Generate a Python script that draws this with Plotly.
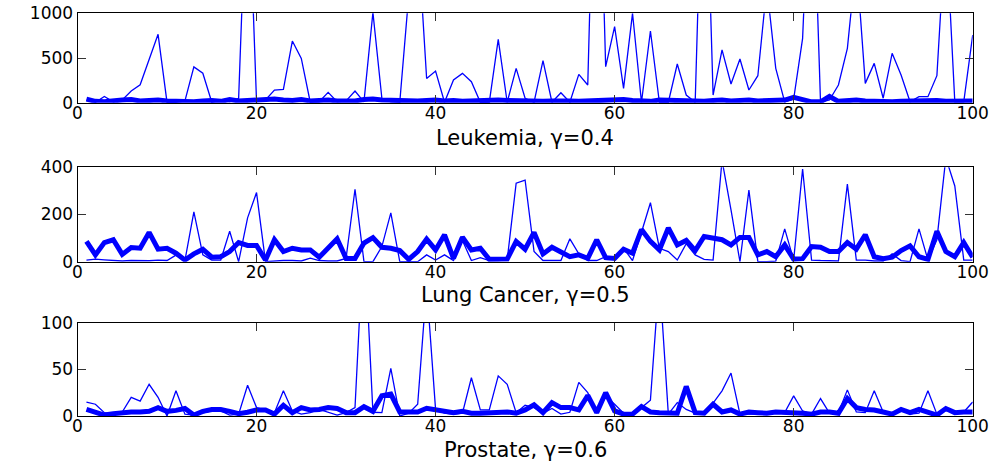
import plotly.graph_objects as go

# Sample index (1..100) shared by all three panels
sample = list(range(1, 101))

# Leukemia, gamma = 0.4
leuk_thin = [30, 5, 70, 10, 30, 130, 200, 480, 765, 5,
             5, 20, 400, 330, 5, 30, 10, 50, 2800, 10,
             30, 140, 150, 690, 496, 5, 10, 115, 10, 20,
             130, 10, 1010, 50, 10, 5, 1200, 1900, 270, 354,
             5, 254, 328, 235, 5, 5, 709, 5, 384, 50,
             5, 470, 5, 112, 5, 317, 198, 4000, 403, 851,
             160, 1000, 5, 802, 5, 5, 433, 86, 5, 3500,
             86, 590, 209, 489, 142, 302, 1300, 384, 10, 40,
             720, 3100, 5, 30, 198, 608, 1600, 216, 440, 50,
             552, 310, 10, 67, 67, 302, 2000, 10, 10, 757]
leuk_thick = [40, 15, 10, 25, 30, 35, 20, 25, 30, 20,
              15, 20, 10, 20, 25, 15, 35, 20, 25, 30,
              35, 40, 30, 25, 35, 20, 25, 30, 20, 15,
              20, 35, 40, 30, 25, 20, 15, 20, 25, 30,
              20, 25, 15, 20, 25, 20, 30, 25, 20, 25,
              20, 15, 20, 25, 20, 15, 20, 25, 30, 25,
              35, 25, 20, 15, 30, 25, 20, 15, 20, 15,
              25, 30, 20, 25, 30, 20, 25, 20, 30, 60,
              30, 10, 10, 70, 15, 20, 30, 20, 15, 20,
              10, 15, 20, 15, 20, 25, 15, 20, 25, 20]

# Lung Cancer, gamma = 0.5
lung_thin = [7, 11, 8, 5, 3, 5, 3, 4, 7, 5,
             28, 5, 211, 29, 7, 7, 129, 0, 186, 293,
             0, 3, 5, 5, 3, 15, 5, 3, 3, 14,
             307, 0, 0, 64, 207, 0, 0, 0, 29, 7,
             29, 5, 90, 5, 17, 5, 5, 8, 333, 346,
             43, 5, 5, 5, 97, 33, 5, 5, 21, 10,
             57, 5, 125, 250, 57, 43, 7, 76, 29, 10,
             7, 430, 220, 0, 303, 0, 0, 2, 139, 7,
             393, 7, 5, 3, 3, 329, 7, 7, 3, 3,
             33, 5, 0, 139, 7, 93, 440, 321, 7, 7]
lung_thick = [86, 29, 81, 93, 31, 60, 57, 124, 53, 57,
              36, 7, 33, 53, 19, 21, 43, 81, 69, 69,
              7, 93, 43, 57, 50, 50, 19, 57, 97, 14,
              14, 79, 102, 61, 57, 47, 10, 43, 96, 50,
              114, 14, 104, 50, 57, 10, 11, 11, 86, 53,
              124, 33, 61, 43, 21, 29, 14, 93, 17, 14,
              53, 36, 136, 86, 50, 143, 71, 90, 47, 107,
              100, 93, 71, 103, 103, 29, 43, 21, 71, 11,
              13, 64, 61, 43, 43, 81, 53, 114, 21, 13,
              19, 47, 67, 21, 10, 129, 43, 21, 81, 19]

# Prostate, gamma = 0.6
prostate_thin = [15, 12.6, 3.6, 2, 4.3, 20, 16, 34, 20, 0,
                 27, 2, 1, 3.6, 5.4, 5.4, 1, 2, 33, 9,
                 6.5, 3.6, 27, 5.4, 2, 3.6, 7, 4.3, 1, 3.6,
                 9, 200, 4, 3.6, 51, 0, 3, 12.6, 140, 7,
                 3, 2, 3, 41, 6.5, 6.5, 43, 34, 3.6, 11.5,
                 9, 3, 8, 2, 4, 36, 25, 3, 21.6, 12.6,
                 3, 3.6, 9, 17, 150, 2, 14.4, 7, 3, 2,
                 13.7, 27, 46, 2, 2, 2, 3, 5.4, 3.6, 21.6,
                 5.4, 2, 18.7, 3, 3.6, 28, 4.3, 3.6, 27, 4.3,
                 2, 6.5, 2, 3, 27, 2, 7, 4.3, 4.3, 15]
prostate_thick = [7, 4, 1, 2.5, 3.6, 4.3, 4.3, 5, 9, 5,
                  6, 8, 1, 5, 7, 7, 5, 2.5, 4, 6.5,
                  6.5, 2, 11.5, 3.6, 9, 6.5, 7, 9, 8, 3.6,
                  3.6, 10, 5, 21.6, 23.4, 4.3, 4.3, 4.3, 8.3, 7,
                  5.4, 3.6, 5, 3, 3, 3.6, 4.3, 4.3, 3, 6.5,
                  12, 3.6, 14.4, 9, 9, 6.5, 22, 3.6, 25, 5.4,
                  2, 2, 10, 4.3, 3.6, 3, 3, 31.7, 3.6, 3,
                  12.6, 4.3, 6.5, 2, 4.3, 3.6, 3, 4.3, 4.3, 3.6,
                  3, 2, 4.3, 4.3, 3, 18.7, 9, 7, 6.5, 4.3,
                  2, 7, 3.6, 7, 4.3, 1, 8, 3.6, 4.3, 4.3]

x_ticks = [0, 20, 40, 60, 80, 100]
titles = ["Leukemia, \u03b3=0.4", "Lung Cancer, \u03b3=0.5", "Prostate, \u03b3=0.6"]
y_maxes = [1000, 400, 100]
y_ticks = [[0, 500, 1000], [0, 200, 400], [0, 50, 100]]
series = [(leuk_thin, leuk_thick), (lung_thin, lung_thick), (prostate_thin, prostate_thick)]

W, H = 998, 462
# pixel boxes of the three axes (left, right, top, bottom)
x_left, x_right = 77.5, 972.7
boxes_y = [(13.3, 102.7), (167.3, 261.7), (322.7, 416.0)]
title_y = [138, 295, 450]

BLUE = "#0000ff"
FONT = "DejaVu Sans"

fig = go.Figure()
for i, (thin, thick) in enumerate(series):
    n = "" if i == 0 else str(i + 1)
    fig.add_trace(go.Scatter(x=sample, y=thin, mode="lines",
                             line=dict(color=BLUE, width=1.3),
                             xaxis="x" + n, yaxis="y" + n, showlegend=False,
                             hoverinfo="skip"))
    fig.add_trace(go.Scatter(x=sample, y=thick, mode="lines",
                             line=dict(color=BLUE, width=5),
                             xaxis="x" + n, yaxis="y" + n, showlegend=False,
                             hoverinfo="skip"))

    top, bot = boxes_y[i]
    axis_common = dict(showgrid=False, zeroline=False, showline=True,
                       automargin=False,
                       linecolor="black", linewidth=1, mirror="ticks",
                       ticks="inside", ticklen=8, tickwidth=1, tickcolor="#333333",
                       tickfont=dict(family=FONT, size=17, color="black"))
    fig.layout["xaxis" + n] = dict(
        domain=[x_left / W, x_right / W], range=[0, 100],
        tickvals=x_ticks, anchor="y" + n, ticklabelstandoff=-5, **axis_common)
    fig.layout["yaxis" + n] = dict(
        domain=[1 - bot / H, 1 - top / H], range=[0, y_maxes[i]],
        tickvals=y_ticks[i], anchor="x" + n, **axis_common)
    fig.add_annotation(text=titles[i], xref="paper", yref="paper",
                       x=(x_left + x_right) / 2 / W, y=1 - title_y[i] / H,
                       xanchor="center", yanchor="middle", showarrow=False,
                       font=dict(family=FONT, size=21, color="black"))

fig.update_layout(width=W, height=H, margin=dict(l=0, r=0, t=0, b=0),
                  paper_bgcolor="white", plot_bgcolor="white")

fig.write_html("out.html")
